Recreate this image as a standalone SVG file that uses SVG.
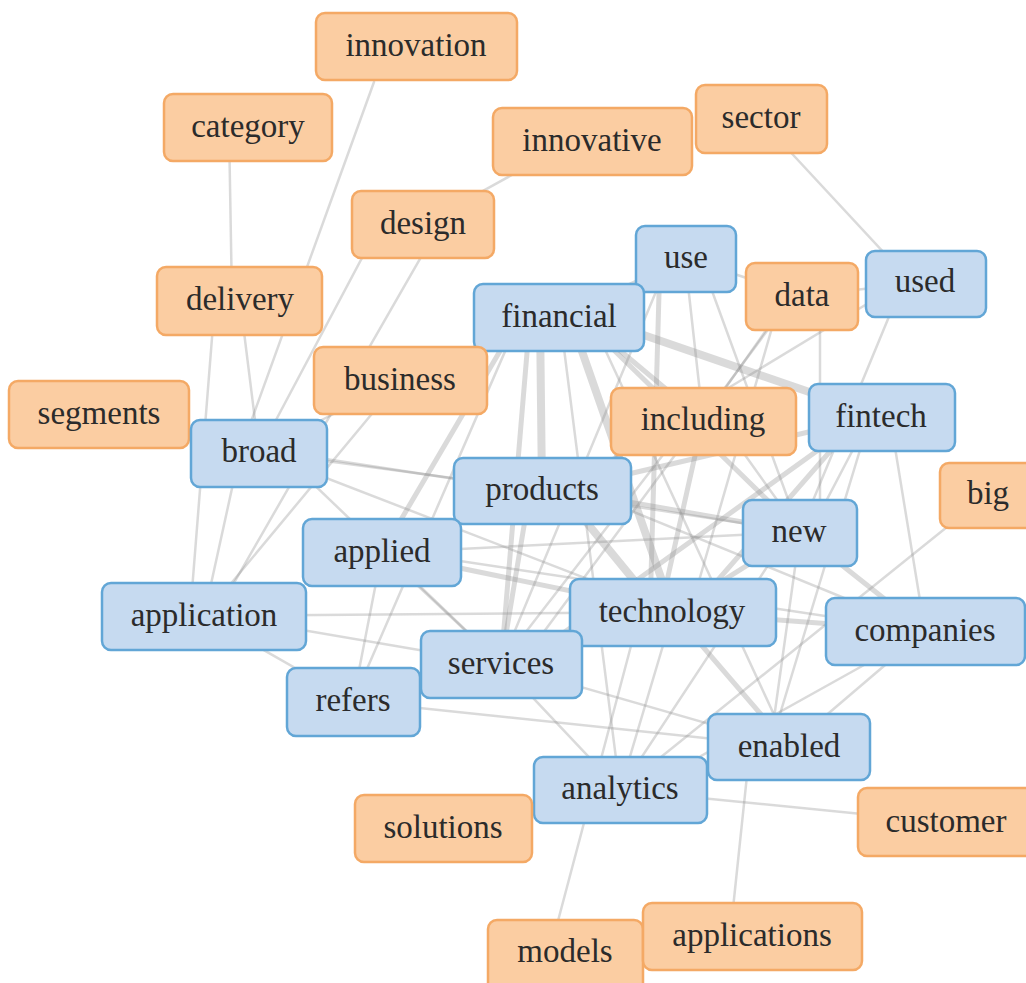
<svg xmlns="http://www.w3.org/2000/svg" width="1026" height="983" viewBox="0 0 1026 983">
<style>
.e{stroke:#8c8c8c;stroke-opacity:.32;stroke-linecap:round;fill:none}
.t{stroke-width:2.5}
.m{stroke-width:5}
.h{stroke-width:8}
.o rect{fill:#fbcda2;stroke:#f4a965;stroke-width:2.5}
.b rect{fill:#c6daf0;stroke:#62a6d6;stroke-width:2.5}
text{font-family:"Liberation Serif","Times New Roman",serif;font-size:33px;fill:#2b2b2b;text-anchor:middle}
</style>
<rect width="1026" height="983" fill="#ffffff"/>
<g id="edges">
<line class="e t" x1="374" y1="82" x2="240" y2="452"/>
<line class="e t" x1="229" y1="127" x2="232" y2="300"/>
<line class="e t" x1="215" y1="300" x2="190" y2="616"/>
<line class="e t" x1="240" y1="300" x2="259" y2="452"/>
<line class="e t" x1="530" y1="165" x2="423" y2="224"/>
<line class="e t" x1="380" y1="224" x2="259" y2="452"/>
<line class="e t" x1="440" y1="224" x2="215" y2="616"/>
<line class="e t" x1="770" y1="130" x2="900" y2="270"/>
<line class="e t" x1="99" y1="414" x2="259" y2="452"/>
<line class="e t" x1="240" y1="452" x2="204" y2="616"/>
<line class="e t" x1="400" y1="380" x2="204" y2="616"/>
<line class="e t" x1="400" y1="380" x2="259" y2="452"/>
<line class="e t" x1="400" y1="380" x2="559" y2="317"/>
<line class="e h" x1="540" y1="317" x2="542" y2="490"/>
<line class="e h" x1="570" y1="317" x2="673" y2="612"/>
<line class="e m" x1="530" y1="317" x2="501" y2="664"/>
<line class="e h" x1="600" y1="320" x2="882" y2="417"/>
<line class="e m" x1="580" y1="317" x2="703" y2="420"/>
<line class="e m" x1="580" y1="317" x2="800" y2="532"/>
<line class="e t" x1="520" y1="317" x2="353" y2="701"/>
<line class="e m" x1="520" y1="317" x2="382" y2="552"/>
<line class="e t" x1="560" y1="317" x2="620" y2="790"/>
<line class="e t" x1="590" y1="317" x2="789" y2="747"/>
<line class="e t" x1="685" y1="258" x2="559" y2="317"/>
<line class="e t" x1="685" y1="258" x2="802" y2="296"/>
<line class="e m" x1="660" y1="258" x2="650" y2="612"/>
<line class="e t" x1="700" y1="258" x2="800" y2="532"/>
<line class="e t" x1="685" y1="258" x2="703" y2="420"/>
<line class="e t" x1="670" y1="258" x2="501" y2="664"/>
<line class="e t" x1="802" y1="296" x2="925" y2="282"/>
<line class="e t" x1="790" y1="296" x2="703" y2="420"/>
<line class="e t" x1="780" y1="300" x2="690" y2="612"/>
<line class="e t" x1="820" y1="296" x2="820" y2="532"/>
<line class="e t" x1="790" y1="300" x2="520" y2="664"/>
<line class="e t" x1="900" y1="290" x2="800" y2="532"/>
<line class="e t" x1="890" y1="290" x2="560" y2="490"/>
<line class="e m" x1="860" y1="417" x2="690" y2="612"/>
<line class="e t" x1="870" y1="417" x2="810" y2="532"/>
<line class="e t" x1="890" y1="417" x2="925" y2="631"/>
<line class="e t" x1="870" y1="417" x2="770" y2="747"/>
<line class="e m" x1="860" y1="420" x2="520" y2="664"/>
<line class="e m" x1="860" y1="420" x2="560" y2="490"/>
<line class="e m" x1="703" y1="420" x2="660" y2="612"/>
<line class="e t" x1="690" y1="420" x2="501" y2="664"/>
<line class="e t" x1="703" y1="420" x2="542" y2="490"/>
<line class="e t" x1="720" y1="420" x2="800" y2="532"/>
<line class="e h" x1="560" y1="490" x2="660" y2="612"/>
<line class="e m" x1="530" y1="490" x2="501" y2="664"/>
<line class="e m" x1="560" y1="490" x2="800" y2="532"/>
<line class="e t" x1="580" y1="490" x2="925" y2="631"/>
<line class="e t" x1="542" y1="490" x2="382" y2="552"/>
<line class="e t" x1="259" y1="452" x2="542" y2="490"/>
<line class="e t" x1="259" y1="452" x2="673" y2="612"/>
<line class="e t" x1="280" y1="452" x2="501" y2="664"/>
<line class="e t" x1="280" y1="452" x2="800" y2="532"/>
<line class="e m" x1="382" y1="552" x2="673" y2="612"/>
<line class="e t" x1="382" y1="552" x2="501" y2="664"/>
<line class="e t" x1="382" y1="552" x2="353" y2="701"/>
<line class="e t" x1="400" y1="552" x2="925" y2="631"/>
<line class="e t" x1="400" y1="552" x2="800" y2="532"/>
<line class="e t" x1="204" y1="616" x2="673" y2="612"/>
<line class="e t" x1="204" y1="616" x2="353" y2="701"/>
<line class="e t" x1="220" y1="616" x2="501" y2="664"/>
<line class="e m" x1="673" y1="612" x2="501" y2="664"/>
<line class="e m" x1="673" y1="612" x2="800" y2="532"/>
<line class="e m" x1="673" y1="612" x2="925" y2="631"/>
<line class="e m" x1="673" y1="612" x2="789" y2="747"/>
<line class="e t" x1="673" y1="612" x2="620" y2="790"/>
<line class="e m" x1="800" y1="532" x2="925" y2="631"/>
<line class="e t" x1="800" y1="532" x2="770" y2="747"/>
<line class="e t" x1="790" y1="532" x2="620" y2="790"/>
<line class="e t" x1="925" y1="631" x2="789" y2="747"/>
<line class="e t" x1="925" y1="631" x2="640" y2="790"/>
<line class="e t" x1="501" y1="664" x2="620" y2="790"/>
<line class="e t" x1="501" y1="664" x2="789" y2="747"/>
<line class="e t" x1="353" y1="701" x2="501" y2="664"/>
<line class="e t" x1="353" y1="701" x2="673" y2="612"/>
<line class="e t" x1="353" y1="701" x2="789" y2="747"/>
<line class="e t" x1="789" y1="747" x2="620" y2="790"/>
<line class="e t" x1="750" y1="747" x2="730" y2="937"/>
<line class="e t" x1="620" y1="790" x2="942" y2="822"/>
<line class="e t" x1="443" y1="828" x2="620" y2="790"/>
<line class="e t" x1="550" y1="951" x2="640" y2="612"/>
<line class="e t" x1="988" y1="494" x2="620" y2="790"/>
</g>
<g id="n-innovation" class="o"><rect x="316" y="13" width="201" height="67" rx="9"/><text x="416" y="56">innovation</text></g>
<g id="n-category" class="o"><rect x="164" y="94" width="168" height="67" rx="9"/><text x="248" y="137">category</text></g>
<g id="n-innovative" class="o"><rect x="493" y="108" width="199" height="67" rx="9"/><text x="592" y="151">innovative</text></g>
<g id="n-sector" class="o"><rect x="696" y="85" width="131" height="68" rx="9"/><text x="761" y="128">sector</text></g>
<g id="n-design" class="o"><rect x="352" y="191" width="142" height="67" rx="9"/><text x="423" y="234">design</text></g>
<g id="n-use" class="b"><rect x="636" y="226" width="100" height="66" rx="9"/><text x="686" y="268">use</text></g>
<g id="n-data" class="o"><rect x="746" y="263" width="112" height="67" rx="9"/><text x="802" y="306">data</text></g>
<g id="n-used" class="b"><rect x="866" y="251" width="120" height="66" rx="9"/><text x="925" y="292">used</text></g>
<g id="n-delivery" class="o"><rect x="157" y="267" width="165" height="68" rx="9"/><text x="240" y="310">delivery</text></g>
<g id="n-financial" class="b"><rect x="474" y="284" width="170" height="67" rx="9"/><text x="559" y="327">financial</text></g>
<g id="n-business" class="o"><rect x="314" y="347" width="173" height="67" rx="9"/><text x="400" y="390">business</text></g>
<g id="n-segments" class="o"><rect x="9" y="381" width="180" height="67" rx="9"/><text x="99" y="424">segments</text></g>
<g id="n-broad" class="b"><rect x="191" y="420" width="136" height="67" rx="9"/><text x="259" y="462">broad</text></g>
<g id="n-including" class="o"><rect x="611" y="388" width="185" height="67" rx="9"/><text x="703" y="430">including</text></g>
<g id="n-fintech" class="b"><rect x="809" y="384" width="146" height="67" rx="9"/><text x="881" y="427">fintech</text></g>
<g id="n-products" class="b"><rect x="454" y="458" width="177" height="66" rx="9"/><text x="542" y="500">products</text></g>
<g id="n-big" class="o"><rect x="940" y="463" width="100" height="65" rx="9"/><text x="988" y="504">big</text></g>
<g id="n-new" class="b"><rect x="743" y="500" width="114" height="66" rx="9"/><text x="799" y="542">new</text></g>
<g id="n-applied" class="b"><rect x="303" y="519" width="158" height="67" rx="9"/><text x="382" y="562">applied</text></g>
<g id="n-application" class="b"><rect x="102" y="583" width="204" height="67" rx="9"/><text x="204" y="626">application</text></g>
<g id="n-technology" class="b"><rect x="570" y="579" width="206" height="67" rx="9"/><text x="672" y="622">technology</text></g>
<g id="n-companies" class="b"><rect x="826" y="598" width="199" height="67" rx="9"/><text x="925" y="641">companies</text></g>
<g id="n-services" class="b"><rect x="421" y="631" width="161" height="67" rx="9"/><text x="501" y="674">services</text></g>
<g id="n-refers" class="b"><rect x="287" y="668" width="133" height="68" rx="9"/><text x="353" y="711">refers</text></g>
<g id="n-enabled" class="b"><rect x="708" y="714" width="162" height="66" rx="9"/><text x="789" y="757">enabled</text></g>
<g id="n-analytics" class="b"><rect x="534" y="757" width="173" height="66" rx="9"/><text x="620" y="799">analytics</text></g>
<g id="n-solutions" class="o"><rect x="355" y="795" width="177" height="67" rx="9"/><text x="443" y="838">solutions</text></g>
<g id="n-customer" class="o"><rect x="858" y="788" width="180" height="68" rx="9"/><text x="946" y="832">customer</text></g>
<g id="n-models" class="o"><rect x="488" y="920" width="155" height="75" rx="9"/><text x="565" y="962">models</text></g>
<g id="n-applications" class="o"><rect x="643" y="903" width="219" height="67" rx="9"/><text x="752" y="946">applications</text></g>
</svg>
